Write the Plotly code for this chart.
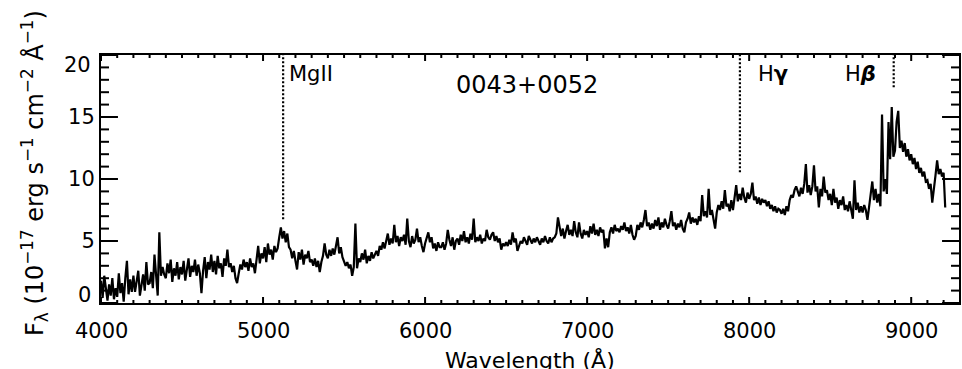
import numpy as np
import plotly.graph_objects as go

# Spectrum sampling: start wavelength and step (Angstrom)
wave_start = 4000.0
wave_step = 10.0

# Flux density in units of 1e-17 erg s^-1 cm^-2 A^-1, one row per 100 A
flux = [
    1.8, 0.4, 2.2, 0.9, 0.2, 1.5, 0.6, 2.0, 0.3, 1.2,    # 4000
    0.5, 2.4, 0.8, 1.6, 0.1, 2.0, 3.4, 0.7, 1.9, 0.9,    # 4100
    2.2, 0.9, 1.7, 2.6, 0.6, 1.4, 2.3, 1.0, 3.3, 1.5,    # 4200
    1.6, 2.5, 1.2, 3.9, 1.8, 0.6, 5.7, 2.2, 2.9, 2.3,    # 4300
    2.0, 3.2, 2.4, 3.5, 1.7, 2.8, 2.2, 3.3, 1.9, 2.9,    # 4400
    2.3, 3.4, 1.8, 2.9, 3.6, 2.1, 3.0, 2.5, 3.5, 2.2,    # 4500
    3.1, 2.4, 0.8, 2.6, 3.7, 2.0, 3.3, 2.7, 3.9, 2.5,    # 4600
    3.4, 2.3, 3.8, 2.8, 3.2, 2.1, 3.6, 3.0, 4.3, 2.9,    # 4700
    3.2, 2.5, 3.0, 2.0, 1.6, 2.4, 3.1, 2.7, 3.5, 2.9,    # 4800
    3.3, 2.6, 3.6, 2.9, 3.2, 2.4, 3.4, 4.6, 3.2, 4.0,    # 4900
    3.6, 4.5, 3.3, 4.8, 3.9, 4.3, 3.5, 4.6, 4.1, 4.4,    # 5000
    5.3, 6.1, 5.2, 5.8, 4.9, 5.6, 4.5, 4.3, 3.6, 4.2,    # 5100
    3.4, 2.7, 4.1, 3.5, 4.3, 3.1, 3.9, 3.6, 4.2, 3.3,    # 5200
    3.5, 3.0, 3.6, 2.9, 3.4, 2.5, 3.3, 3.8, 4.8, 3.9,    # 5300
    3.6, 4.3, 3.8, 4.4, 3.9, 4.6, 5.3, 4.0, 4.5, 3.7,    # 5400
    3.4, 3.0, 3.3, 2.8, 3.1, 2.2, 2.9, 6.4, 2.8, 3.6,    # 5500
    3.3, 4.0, 3.5, 4.3, 3.2, 3.8, 3.4, 4.1, 3.6, 3.9,    # 5600
    4.2, 3.8, 4.6, 4.3, 4.9, 4.4, 5.0, 5.6, 4.7, 5.2,    # 5700
    4.8, 6.3, 4.9, 5.4, 4.6, 5.3, 5.0, 5.5, 4.7, 6.8,    # 5800
    5.0, 4.5, 5.4, 4.8, 5.1, 6.0, 4.9, 5.3, 4.6, 4.1,    # 5900
    4.8, 5.2, 5.7, 4.9, 5.3, 4.4, 4.8, 4.2, 4.9, 4.5,    # 6000
    4.5, 4.9, 4.3, 4.8, 5.9, 5.1, 4.6, 5.3, 4.3, 5.0,    # 6100
    5.2, 4.7, 5.5, 5.0, 5.8, 4.9, 5.3, 4.8, 5.6, 5.1,    # 6200
    6.8, 4.9, 5.3, 5.0, 5.5, 4.8, 5.2, 5.0, 5.9, 5.3,    # 6300
    5.1, 5.5, 5.7, 5.0, 5.4, 4.9, 5.2, 4.3, 4.8, 4.6,    # 6400
    4.9, 4.6, 5.1, 4.7, 5.7, 4.9, 5.2, 4.2, 4.7, 5.0,    # 6500
    4.8, 5.3, 5.0, 4.7, 5.4, 5.1, 4.8, 5.2, 4.9, 5.3,    # 6600
    5.0, 4.7, 5.2, 4.9, 5.4, 5.0, 4.8, 5.3, 4.9, 5.2,    # 6700
    5.3, 5.6, 6.9, 6.2, 5.4, 6.0, 5.2, 5.8, 6.3, 5.5,    # 6800
    5.9, 5.4, 6.6, 5.7, 5.3, 6.5, 5.6, 5.2, 5.9, 5.5,    # 6900
    5.8, 5.3, 6.2, 5.6, 6.4, 5.5, 5.9, 5.4, 6.1, 5.7,    # 7000
    5.9, 4.4, 5.2, 4.5, 5.7, 6.1, 5.6, 6.3, 5.8, 6.0,    # 7100
    5.7, 6.2, 5.9, 6.5, 5.8, 6.1, 5.6, 6.3, 5.5, 5.1,    # 7200
    5.4, 6.3, 5.9, 6.5, 6.1, 6.7, 7.5, 6.2, 6.5, 5.9,    # 7300
    6.4, 6.0, 6.7, 6.2, 6.9, 5.9, 6.5, 6.1, 6.8, 6.3,    # 7400
    6.0, 6.6, 7.4, 6.2, 6.5, 5.9, 6.4, 6.1, 6.7, 6.0,    # 7500
    5.7, 6.5, 6.8, 7.3, 6.4, 6.9, 6.5, 6.8, 6.3, 7.0,    # 7600
    6.6, 8.7, 7.0, 7.4, 6.9, 9.2, 7.1, 7.5, 6.8, 6.0,    # 7700
    7.3, 7.9, 7.5, 8.2, 7.6, 9.1, 7.8, 8.0, 7.4, 8.3,    # 7800
    7.5, 8.4, 9.5, 8.2, 8.8, 8.3, 9.3, 8.5, 8.1, 8.9,    # 7900
    8.4, 8.8, 9.7, 8.3, 8.6, 8.0, 8.5, 7.9, 8.4, 8.1,    # 8000
    8.3, 7.8, 8.2, 7.6, 7.9, 7.4, 7.8, 7.3, 7.6, 7.5,    # 8100
    7.2, 7.6, 7.1, 7.8, 7.4, 8.3, 8.7, 8.5, 9.1, 9.4,    # 8200
    9.0, 8.6, 9.3, 8.8, 9.6, 11.2, 8.9, 9.5, 8.7, 9.4,   # 8300
    11.1, 9.0, 9.4, 7.7, 9.2, 8.6, 10.2, 8.9, 9.1, 8.3,  # 8400
    8.8, 7.9, 9.2, 8.1, 8.5, 7.6, 8.3, 7.9, 8.6, 7.5,    # 8500
    7.9, 7.4, 8.2, 7.6, 6.8, 9.9, 7.5, 8.1, 7.3, 7.8,    # 8600
    7.3, 7.9, 7.5, 6.7, 7.8, 8.6, 9.8, 8.3, 9.2, 8.1,    # 8700
    8.8, 7.8, 15.2, 9.0, 10.0, 8.8, 14.6, 11.6, 15.8, 11.8,  # 8800
    12.3, 14.6, 15.5, 12.5, 13.1, 12.2, 12.9, 11.8, 12.4, 11.5,  # 8900
    12.0, 11.2, 11.7, 10.8, 11.4, 10.5, 10.9, 10.2, 10.6, 9.8,   # 9000
    9.9, 9.2, 9.6, 8.1, 9.0, 10.3, 11.5, 10.4, 10.8, 10.2,  # 9100
    10.5, 7.7,                                              # 9200
]
wavelength = wave_start + wave_step * np.arange(len(flux))

# Redshifted emission lines: label, observed wavelength, lower end of marker
line_labels = ["MgII", "H<b>γ</b>", "H<b><i>β</i></b>"]
line_waves = [5124, 7943, 8892]
line_bottoms = [6.75, 10.55, 17.4]
object_name = "0043+0052"

x_range = [4000, 9295]
y_range = [0, 20]
x_major = [4000, 5000, 6000, 7000, 8000, 9000]
x_minor_step = 100
y_major = [0, 5, 10, 15, 20]
y_minor_step = 1

FONT = "DejaVu Sans"
INK = "black"

# Plot-area size in pixels (figure size minus margins)
W, H = 962, 369
M = dict(l=101, r=1, t=55, b=66)
plot_w = W - M["l"] - M["r"]
plot_h = H - M["t"] - M["b"]
x_per_px = (x_range[1] - x_range[0]) / plot_w
y_per_px = (y_range[1] - y_range[0]) / plot_h

fig = go.Figure()
fig.add_trace(go.Scatter(
    x=wavelength, y=flux, mode="lines",
    line=dict(color=INK, width=2.2),
    hoverinfo="skip", showlegend=False,
))

# Inward frame ticks on all four sides, as one segmented line trace
tick_x, tick_y = [], []

def tick(x0, x1, y0, y1):
    tick_x.extend([x0, x1, None])
    tick_y.extend([y0, y1, None])

x_minor = [v for v in range(int(x_range[0]), int(x_range[1]) + 1, x_minor_step)
           if v not in x_major]
for vals, length in [(x_major, 6), (x_minor, 3)]:
    dy = length * y_per_px
    for v in vals:
        tick(v, v, y_range[0], y_range[0] + dy)
        tick(v, v, y_range[1], y_range[1] - dy)

y_minor = [v for v in range(y_range[0], y_range[1] + 1, y_minor_step) if v not in y_major]
for vals, length in [(y_major, 17), (y_minor, 8)]:
    dx = length * x_per_px
    for v in vals:
        tick(x_range[0], x_range[0] + dx, v, v)
        tick(x_range[1], x_range[1] - dx, v, v)

fig.add_trace(go.Scatter(
    x=tick_x, y=tick_y, mode="lines", connectgaps=False,
    line=dict(color=INK, width=2), cliponaxis=False,
    hoverinfo="skip", showlegend=False,
))

# Dotted markers and labels for the emission lines
label_side = [("left", 4), ("left", 16), ("right", -16)]
for name, w, b, (anchor, shift) in zip(line_labels, line_waves, line_bottoms, label_side):
    fig.add_shape(type="line", xref="x", yref="y", x0=w, x1=w, y0=b, y1=y_range[1],
                  line=dict(color=INK, width=2.2, dash="2px,2px"))
    fig.add_annotation(x=w, y=18.5, xref="x", yref="y", text=name, showarrow=False,
                       xanchor=anchor, yanchor="middle", xshift=shift,
                       font=dict(family=FONT, size=21, color=INK))

fig.add_annotation(x=6630, y=17.6, xref="x", yref="y", text=object_name, showarrow=False,
                   xanchor="center", yanchor="middle",
                   font=dict(family=FONT, size=24, color=INK))

# Wavelength tick labels below the frame
for v in x_major:
    fig.add_annotation(x=v, y=0, xref="x", yref="paper", text=str(v), showarrow=False,
                       xanchor="center", yanchor="middle", yshift=-28,
                       font=dict(family=FONT, size=21, color=INK))

# End labels of the y axis sit just inside the frame
for val, dy in [(0, 8), (20, -9.5)]:
    fig.add_annotation(x=0, y=val, xref="paper", yref="y", text=str(val), showarrow=False,
                       xanchor="right", yanchor="middle", xshift=-8, yshift=dy,
                       font=dict(family=FONT, size=21, color=INK))

# Axis titles
fig.add_annotation(x=0.5, y=0, xref="paper", yref="paper", text="Wavelength (Å)",
                   showarrow=False, xanchor="center", yanchor="middle", yshift=-57,
                   font=dict(family=FONT, size=22, color=INK))
fig.add_annotation(x=0, y=0.5, xref="paper", yref="paper",
                   text="F<sub>λ</sub> (10<sup>−17</sup> erg s<sup>−1</sup> cm<sup>−2</sup> Å<sup>−1</sup>)",
                   showarrow=False, textangle=-90, xanchor="center", yanchor="middle",
                   xshift=-67, yshift=6,
                   font=dict(family=FONT, size=24, color=INK))

fig.update_layout(
    width=W, height=H,
    margin=M,
    paper_bgcolor="white", plot_bgcolor="white",
    showlegend=False,
    xaxis=dict(
        range=x_range, showticklabels=False, ticks="",
        showline=True, linewidth=2, linecolor=INK, mirror=True,
        showgrid=False, zeroline=False,
    ),
    yaxis=dict(
        range=y_range, tickmode="array", tickvals=y_major,
        ticktext=["", "5", "10", "15", ""], ticks="",
        showline=True, linewidth=2, linecolor=INK, mirror=True,
        showgrid=False, zeroline=False,
        tickfont=dict(family=FONT, size=21, color=INK),
    ),
)

fig.write_html("out.html")
